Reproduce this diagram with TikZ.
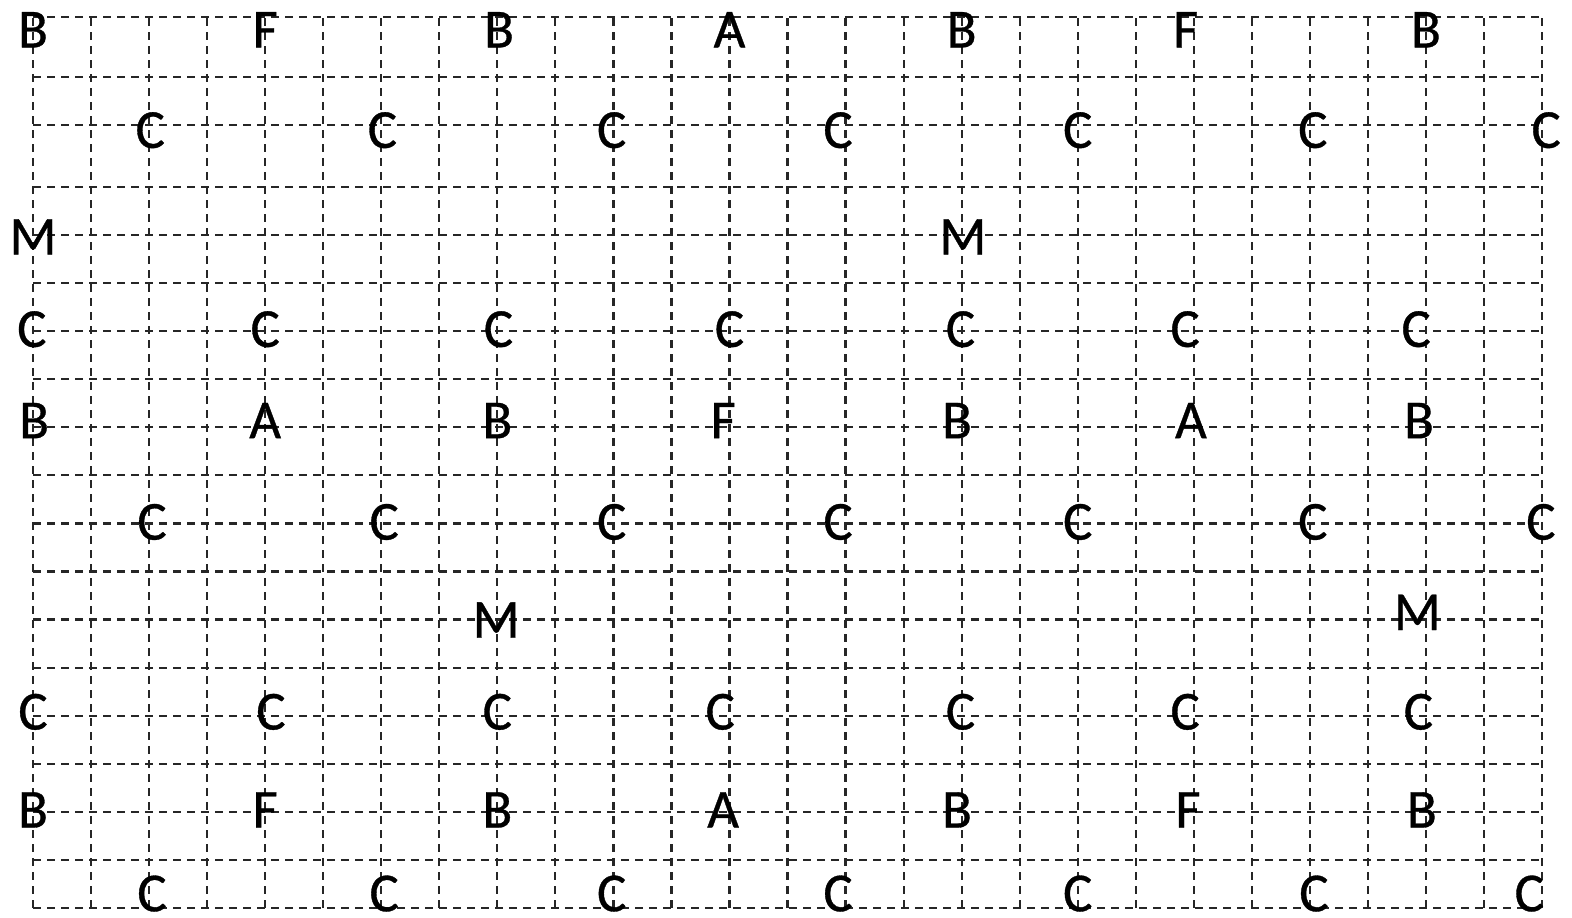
\documentclass[tikz,border=0pt]{standalone}
\usepackage{fontspec}
\setmainfont{Carlito}
\newfontfamily\letterfont[FakeBold=0.6]{Carlito}
\usepackage{tikz}
\tikzset{
  gridline/.style={line width=1.1pt, black!85, dash pattern=on 4.2pt off 2.8pt},
  letter/.style={inner sep=0pt, font=\letterfont\fontsize{27.5}{30}\selectfont},
}

\begin{document}
\begin{tikzpicture}[x=29.02pt, y=24.035pt]
  \useasboundingbox (-0.5686,-0.208) rectangle (26.516,18.889);

  % dashed grid, top rows a bit uneven
  \foreach \x in {0,...,26} \draw[gridline] (\x,0)--(\x,18.54);
  \foreach \y in {0,...,15} \draw[gridline] (0,\y)--(26,\y);
  \foreach \y in {16.29,17.29,18.54} \draw[gridline] (0,\y)--(26,\y);

  % B/F/A rows
  \foreach \x/\t [count=\i] in {0/B,4/F,8.03/B,12/A,16/B,19.86/F,24/B}
    \node[letter] (ra-\i) at (\x,18.27) {\t};
  \foreach \x/\t [count=\i] in {0.02/B,4/A,8/B,11.89/F,15.92/B,19.95/A,23.88/B}
    \node[letter] (rb-\i) at (\x,10.14) {\t};
  \foreach \x/\t [count=\i] in {0/B,4/F,8/B,11.89/A,15.92/B,19.9/F,23.93/B}
    \node[letter] (rc-\i) at (\x,2.04) {\t};

  % C rows between
  \foreach \x [count=\i] in {2.02,6.02,9.97,13.87,18,22.05,26.07}
    \node[letter] (ca-\i) at (\x,16.18) {C};
  \foreach \x [count=\i] in {-0.02,4,8.02,12,15.98,19.85,23.83}
    \node[letter] (cb-\i) at (\x,12.04) {C};
  \foreach \x [count=\i] in {2.05,6.05,9.97,13.87,18,22.05,25.98}
    \node[letter] (cc-\i) at (\x,8.03) {C};
  \foreach \x [count=\i] in {0,4.1,8,11.84,15.98,19.85,23.87}
    \node[letter] (cd-\i) at (\x,4.08) {C};
  \foreach \x [count=\i] in {2.05,6.05,9.97,13.87,18,22.07,25.78}
    \node[letter] (ce-\i) at (\x,0.3) {C};

  % M marks
  \node[letter] (m1) at (0,13.96) {M};
  \node[letter] (m2) at (16.02,13.96) {M};
  \node[letter] (m3) at (7.98,5.99) {M};
  \node[letter] (m4) at (23.85,6.15) {M};
\end{tikzpicture}
\end{document}
